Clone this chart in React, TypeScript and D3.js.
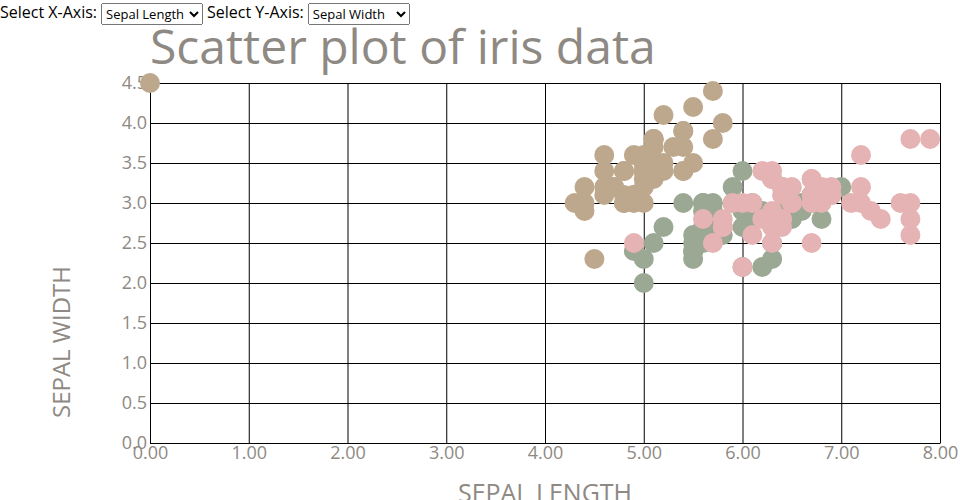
import React, { useEffect, useRef } from "react";
import * as d3 from "d3";

const species = ["setosa", "versicolor", "virginica"];
const speciesColors = ["#bda88d", "#9ba893", "#e5b3b3"];

// [sepal length, sepal width]
const setosa: [number, number][] = [
  [0, 4.5],
  [5.1, 3.5], [4.9, 3.0], [4.7, 3.2], [4.6, 3.1], [5.0, 3.6], [5.4, 3.9], [4.6, 3.4], [5.0, 3.4], [4.4, 2.9], [4.9, 3.1],
  [5.4, 3.7], [4.8, 3.4], [4.8, 3.0], [4.3, 3.0], [5.8, 4.0], [5.7, 4.4], [5.4, 3.9], [5.1, 3.5], [5.7, 3.8], [5.1, 3.8],
  [5.4, 3.4], [5.1, 3.7], [4.6, 3.6], [5.1, 3.3], [4.8, 3.4], [5.0, 3.0], [5.0, 3.4], [5.2, 3.5], [5.2, 3.4], [4.7, 3.2],
  [4.8, 3.1], [5.4, 3.4], [5.2, 4.1], [5.5, 4.2], [4.9, 3.1], [5.0, 3.2], [5.5, 3.5], [4.9, 3.6], [4.4, 3.0], [5.1, 3.4],
  [5.0, 3.5], [4.5, 2.3], [4.4, 3.2], [5.0, 3.5], [5.1, 3.8], [4.8, 3.0], [5.1, 3.8], [4.6, 3.2], [5.3, 3.7], [5.0, 3.3],
];
const versicolor: [number, number][] = [
  [7.0, 3.2], [6.4, 3.2], [6.9, 3.1], [5.5, 2.3], [6.5, 2.8], [5.7, 2.8], [6.3, 3.3], [4.9, 2.4], [6.6, 2.9], [5.2, 2.7],
  [5.0, 2.0], [5.9, 3.0], [6.0, 2.2], [6.1, 2.9], [5.6, 2.9], [6.7, 3.1], [5.6, 3.0], [5.8, 2.7], [6.2, 2.2], [5.6, 2.5],
  [5.9, 3.2], [6.1, 2.8], [6.3, 2.5], [6.1, 2.8], [6.4, 2.9], [6.6, 3.0], [6.8, 2.8], [6.7, 3.0], [6.0, 2.9], [5.7, 2.6],
  [5.5, 2.4], [5.5, 2.4], [5.8, 2.7], [6.0, 2.7], [5.4, 3.0], [6.0, 3.4], [6.7, 3.1], [6.3, 2.3], [5.6, 3.0], [5.5, 2.5],
  [5.5, 2.6], [6.1, 3.0], [5.8, 2.6], [5.0, 2.3], [5.6, 2.7], [5.7, 3.0], [5.7, 2.9], [6.2, 2.9], [5.1, 2.5], [5.7, 2.8],
];
const virginica: [number, number][] = [
  [6.3, 3.3], [5.8, 2.7], [7.1, 3.0], [6.3, 2.9], [6.5, 3.0], [7.6, 3.0], [4.9, 2.5], [7.3, 2.9], [6.7, 2.5], [7.2, 3.6],
  [6.5, 3.2], [6.4, 2.7], [6.8, 3.0], [5.7, 2.5], [5.8, 2.8], [6.4, 3.2], [6.5, 3.0], [7.7, 3.8], [7.7, 2.6], [6.0, 2.2],
  [6.9, 3.2], [5.6, 2.8], [7.7, 2.8], [6.3, 2.7], [6.7, 3.3], [7.2, 3.2], [6.2, 2.8], [6.1, 3.0], [6.4, 2.8], [7.2, 3.0],
  [7.4, 2.8], [7.9, 3.8], [6.4, 2.8], [6.3, 2.8], [6.1, 2.6], [7.7, 3.0], [6.3, 3.4], [6.4, 3.1], [6.0, 3.0], [6.9, 3.1],
  [6.7, 3.1], [6.9, 3.1], [5.8, 2.7], [6.8, 3.2], [6.7, 3.3], [6.7, 3.0], [6.3, 2.5], [6.5, 3.0], [6.2, 3.4], [5.9, 3.0],
];

const xOptions = ["Sepal Length", "Sepal Width", "Petal Length", "Petal Width"];
const yOptions = ["Sepal Width", "Sepal Length", "Petal Length", "Petal Width"];
const titleText = "Scatter plot of iris data";
const xLabel = "SEPAL LENGTH";
const yLabel = "SEPAL WIDTH";
const xDomain = [0, 8];
const yDomain = [0, 4.5];

const FONT = "'Open Sans', sans-serif";
const GRAY = "#8e8983";

export default function App() {
  const ref = useRef<SVGSVGElement>(null);

  useEffect(() => {
    const svg = d3.select(ref.current);
    svg.selectAll("*").remove();
    const W = 960, H = 500;
    const m = { left: 150, top: 83, right: 20, bottom: 57 };
    const w = W - m.left - m.right;
    const h = H - m.top - m.bottom;

    const x = d3.scaleLinear().domain(xDomain).range([0, w]);
    const y = d3.scaleLinear().domain(yDomain).range([h, 0]);
    const color = d3.scaleOrdinal<string, string>().domain(species).range(speciesColors);

    svg.append("text")
      .attr("x", m.left)
      .attr("y", 64)
      .attr("font-family", FONT)
      .attr("font-size", 48)
      .attr("fill", GRAY)
      .text(titleText);

    const g = svg.append("g").attr("transform", `translate(${m.left},${m.top})`);

    const xAxis = g.append("g")
      .attr("transform", `translate(0,${h})`)
      .call(d3.axisBottom(x).ticks(8).tickSize(-h).tickSizeOuter(0).tickFormat(d3.format(".2f")));
    const yAxis = g.append("g")
      .call(d3.axisLeft(y).ticks(10).tickSize(-w).tickSizeOuter(0).tickFormat(d3.format(".1f")));

    [xAxis, yAxis].forEach((a) => {
      a.selectAll("line").attr("stroke", "#000");
      a.select(".domain").attr("stroke", "#000");
      a.selectAll("text")
        .attr("font-family", FONT)
        .attr("font-size", 18)
        .attr("fill", GRAY);
    });

    const sets = [setosa, versicolor, virginica];
    sets.forEach((data, i) => {
      g.append("g")
        .selectAll("circle")
        .data(data)
        .join("circle")
        .attr("cx", (d) => x(d[0]))
        .attr("cy", (d) => y(d[1]))
        .attr("r", 10)
        .attr("fill", color(species[i]));
    });

    svg.append("text")
      .attr("x", m.left + w / 2)
      .attr("y", 502)
      .attr("text-anchor", "middle")
      .attr("font-family", FONT)
      .attr("font-size", 25)
      .attr("fill", GRAY)
      .text(xLabel);

    svg.append("text")
      .attr("transform", `translate(70,342) rotate(-90)`)
      .attr("text-anchor", "middle")
      .attr("font-family", FONT)
      .attr("font-size", 24)
      .attr("fill", GRAY)
      .text(yLabel);
  }, []);

  const selStyle: React.CSSProperties = {
    fontFamily: FONT,
    fontSize: 13,
    height: 22,
    width: 102,
    margin: "0 4px 0 4px",
    verticalAlign: "middle",
  };

  return (
    <div style={{ position: "absolute", left: 0, top: 0, width: 960, height: 500, overflow: "hidden" }}>
      <svg ref={ref} width={960} height={500} style={{ position: "absolute", left: 0, top: 0 }} />
      <div style={{ position: "absolute", left: 0, top: 0, fontFamily: FONT, fontSize: 16, lineHeight: "24px", whiteSpace: "nowrap" }}>
        <span>Select X-Axis:</span>
        <select style={selStyle} defaultValue={xOptions[0]}>
          {xOptions.map((o) => (
            <option key={o}>{o}</option>
          ))}
        </select>
        <span>Select Y-Axis:</span>
        <select style={selStyle} defaultValue={yOptions[0]}>
          {yOptions.map((o) => (
            <option key={o}>{o}</option>
          ))}
        </select>
      </div>
    </div>
  );
}
